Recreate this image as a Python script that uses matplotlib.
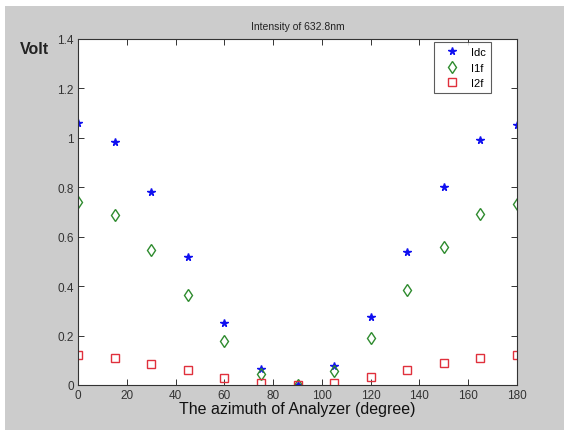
import matplotlib
matplotlib.use('Agg')
import matplotlib.pyplot as plt
from matplotlib.patches import Rectangle

# 数据
angle = [0, 15, 30, 45, 60, 75, 90, 105, 120, 135, 150, 165, 180]
Idc = [1.06, 0.984, 0.782, 0.517, 0.25, 0.064, 0.0, 0.077, 0.276, 0.54, 0.803, 0.99, 1.051]
I1f = [0.74, 0.688, 0.548, 0.363, 0.18, 0.043, 0.0, 0.057, 0.191, 0.383, 0.56, 0.69, 0.734]
I2f = [0.121, 0.11, 0.086, 0.06, 0.03, 0.01, 0.002, 0.01, 0.031, 0.06, 0.09, 0.109, 0.12]
xticks = list(range(0, 181, 20))
yticks = [0, 0.2, 0.4, 0.6, 0.8, 1.0, 1.2, 1.4]
ylabels = ['0', '0.2', '0.4', '0.6', '0.8', '1', '1.2', '1.4']

plt.rcParams['font.family'] = ['Liberation Sans', 'DejaVu Sans']

fig = plt.figure(figsize=(5.64, 4.31), dpi=100, facecolor='white')
# MATLAB风格灰色背景
fig.patches.append(Rectangle((5 / 564, 0), 1, 1 - 7 / 431, transform=fig.transFigure,
                             facecolor='#cccccc', edgecolor='none', zorder=-10))

ax = fig.add_axes([78 / 564, 45 / 431, 439 / 564, 346 / 431])
ax.set_facecolor('white')

ax.plot(angle, Idc, linestyle='none', marker='*', color='#1010f0', ms=5.5, label='Idc')
ax.plot(angle, I1f, linestyle='none', marker='d', mfc='none', mec='#2e8b2e', ms=6, mew=1.0, label='I1f')
ax.plot(angle, I2f, linestyle='none', marker='s', mfc='none', mec='#e0303c', ms=6, mew=1.0, label='I2f')

ax.set_xlim(0, 180)
ax.set_ylim(0, 1.4)
ax.set_xticks(xticks)
ax.set_yticks(yticks)
ax.set_yticklabels(ylabels)
ax.tick_params(direction='in', top=True, right=True, length=4, width=0.7,
               labelsize=8.5, labelcolor='#333333', color='#333333', pad=3)
for s in ax.spines.values():
    s.set_linewidth(0.8)
    s.set_color('#333333')

ax.set_title('Intensity of 632.8nm', fontsize=7.5, pad=7, color='#222222')
ax.set_xlabel('The azimuth of Analyzer (degree)', fontsize=11.5, labelpad=0, color='#111111')
fig.text(20 / 564, 1 - 50 / 431, 'Volt', fontsize=11.5, fontweight='bold', color='#222222',
         va='center', ha='left')

leg = ax.legend(loc='upper right', bbox_to_anchor=(491 / 564, 1 - 43 / 431),
                bbox_transform=fig.transFigure, fontsize=8, frameon=True, fancybox=False,
                edgecolor='#333333', handlelength=2.4, handletextpad=0.5,
                labelspacing=0.5, borderpad=0.45, borderaxespad=0)
leg.get_frame().set_linewidth(0.8)

fig.savefig('out.png', dpi=100)
